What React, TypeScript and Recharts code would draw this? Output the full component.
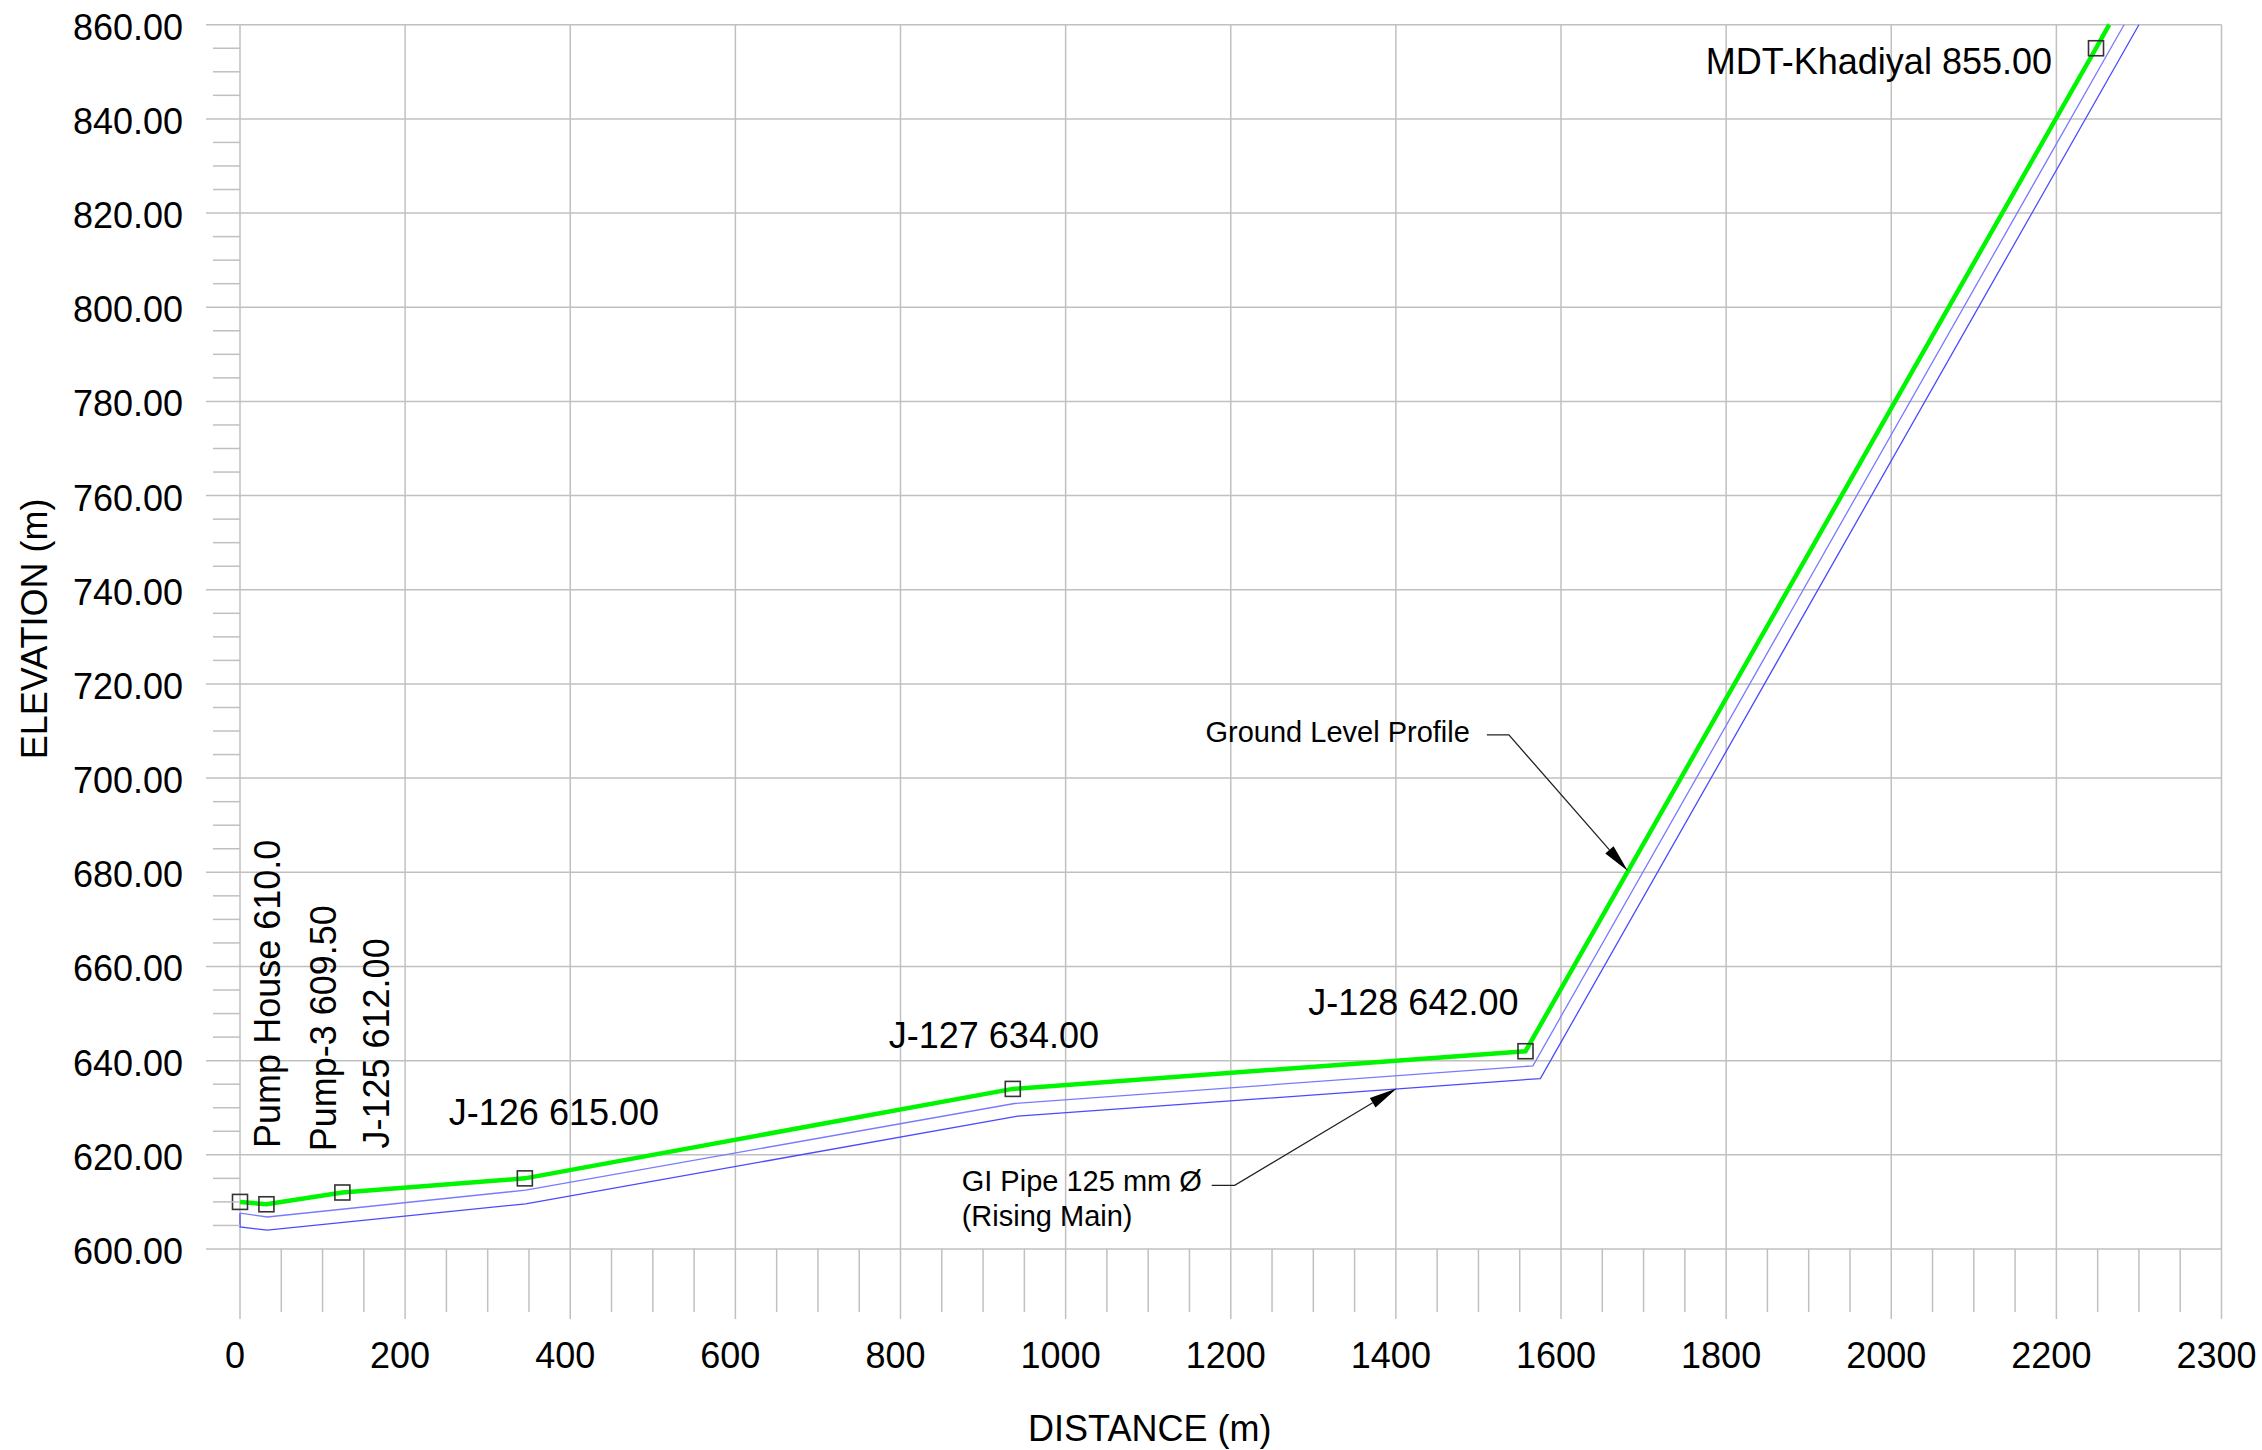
import { ComposedChart, Line, Scatter, XAxis, YAxis, CartesianGrid, ReferenceDot, Label } from 'recharts'

// junctions along the rising main (distance in m, elevation in m)
const junctionLabels = [
  'Pump House 610.0',
  'Pump-3 609.50',
  'J-125 612.00',
  'J-126 615.00',
  'J-127 634.00',
  'J-128 642.00',
  'MDT-Khadiyal 855.00',
]
const junctionDistance = [0, 32, 124, 345, 936, 1557, 2248]
const junctionElevation = [610.0, 609.5, 612.0, 615.0, 634.0, 642.0, 855.0]

// ground level profile (runs off the top of the sheet past MDT)
const groundDistance = [0, 32, 124, 345, 936, 1557, 2248, 2264]
const groundElevation = [610.0, 609.5, 612.0, 615.0, 634.0, 642.0, 855.0, 860.0]

// pipe outline, crown and invert
const pipeTopDistance = [0, 33, 346, 938, 1566, 2282]
const pipeTopElevation = [607.6, 606.8, 612.5, 630.9, 638.9, 860.0]
const pipeBottomDistance = [0, 0, 33, 346, 942, 1575, 2300]
const pipeBottomElevation = [607.6, 604.7, 604.0, 609.6, 628.2, 636.2, 860.0]

// axes
const xMajorTicks = [0, 200, 400, 600, 800, 1000, 1200, 1400, 1600, 1800, 2000, 2200, 2400]
const xTickLabels = ['0', '200', '400', '600', '800', '1000', '1200', '1400', '1600', '1800', '2000', '2200', '2300']
const yMajorTicks = [600, 620, 640, 660, 680, 700, 720, 740, 760, 780, 800, 820, 840, 860]

// callouts
const calloutText = [['Ground Level Profile'], ['GI Pipe 125 mm Ø', '(Rising Main)']]
const calloutDistance = [1681, 1401]
const calloutElevation = [680.3, 634.1]

const xMinorTicks: number[] = []
for (let v = 0; v <= 2400; v += 50) xMinorTicks.push(v)
const yMinorTicks: number[] = []
for (let v = 600; v <= 860; v += 5) yMinorTicks.push(v)

const toPoints = (xs: number[], ys: number[]) => xs.map((x, i) => ({ x, y: ys[i] }))
const groundData = toPoints(groundDistance, groundElevation)
const pipeTopData = toPoints(pipeTopDistance, pipeTopElevation)
const pipeBottomData = toPoints(pipeBottomDistance, pipeBottomElevation)
const junctionData = junctionDistance.map((x, i) => ({ x, y: junctionElevation[i], label: junctionLabels[i], idx: i }))

const GRID = '#c0c0c0'
const FONT = '"Liberation Sans", Arial, sans-serif'

// label placement relative to the marker, in px
const labelLayout = [
  { dx: 40, dy: -54, anchor: 'start', rotate: true },
  { dx: 70, dy: -53, anchor: 'start', rotate: true },
  { dx: 47, dy: -44, anchor: 'start', rotate: true },
  { dx: -76, dy: -53, anchor: 'start', rotate: false },
  { dx: -124, dy: -41, anchor: 'start', rotate: false },
  { dx: -7, dy: -36, anchor: 'end', rotate: false },
  { dx: -44, dy: 26, anchor: 'end', rotate: false },
]

// leader geometry for the callouts, in px from the arrow tip
const calloutLayout = [
  { elbow: [-119, -136], armEnd: [-141, -136], text: [-158, -129], anchor: 'end' },
  { elbow: [-162, 97], armEnd: [-185, 97], text: [-435, 103], anchor: 'start' },
]

function ElevationTick({ x, y, payload }: any) {
  const v = payload.value
  const major = yMajorTicks.includes(v)
  return (
    <g>
      <line x1={x - (major ? 34 : 27)} x2={x} y1={y} y2={y} stroke={GRID} strokeWidth={1.5} />
      {major && (
        <text x={x - 57} y={y + 15} textAnchor="end" fontSize={36} fill="#000">
          {v.toFixed(2)}
        </text>
      )}
    </g>
  )
}

function DistanceTick({ x, y, payload }: any) {
  const i = xMajorTicks.indexOf(payload.value)
  const major = i >= 0
  return (
    <g>
      <line x1={x} x2={x} y1={y} y2={y + (major ? 70 : 63)} stroke={GRID} strokeWidth={1.5} />
      {major && (
        <text x={x - 5} y={y + 119} textAnchor="middle" fontSize={36} fill="#000">
          {xTickLabels[i]}
        </text>
      )}
    </g>
  )
}

function JunctionMarker(props: any) {
  const { cx, cy, payload } = props
  const l = labelLayout[payload.idx]
  const tx = cx + l.dx
  const ty = cy + l.dy
  return (
    <g>
      <rect x={cx - 7.5} y={cy - 7.5} width={15} height={15} fill="none" stroke="#333" strokeWidth={1.6} />
      <text
        x={tx}
        y={ty}
        fontSize={36}
        fill="#000"
        textAnchor={l.anchor}
        transform={l.rotate ? `rotate(-90 ${tx} ${ty})` : undefined}
      >
        {payload.label}
      </text>
    </g>
  )
}

function Callout(idx: number) {
  return (props: any) => {
    const { cx, cy } = props
    const c = calloutLayout[idx]
    const ex = cx + c.elbow[0]
    const ey = cy + c.elbow[1]
    const len = Math.hypot(cx - ex, cy - ey)
    const ux = (cx - ex) / len
    const uy = (cy - ey) / len
    const bx = cx - ux * 28
    const by = cy - uy * 28
    const w = 5.5
    const head = `${cx},${cy} ${bx - uy * w},${by + ux * w} ${bx + uy * w},${by - ux * w}`
    return (
      <g>
        <polyline
          points={`${cx + c.armEnd[0]},${cy + c.armEnd[1]} ${ex},${ey} ${bx},${by}`}
          fill="none"
          stroke="#222"
          strokeWidth={1.3}
        />
        <polygon points={head} fill="#000" />
        {calloutText[idx].map((t, k) => (
          <text key={k} x={cx + c.text[0]} y={cy + c.text[1] + k * 35} fontSize={29} fill="#000" textAnchor={c.anchor}>
            {t}
          </text>
        ))}
      </g>
    )
  }
}

export default function App() {
  return (
    <div style={{ position: 'absolute', left: 0, top: 0, fontFamily: FONT, background: '#fff' }}>
      <ComposedChart width={2262} height={1450} margin={{ top: 24.7, right: 40.5, bottom: 0, left: 0 }}>
        <CartesianGrid
          horizontalValues={yMajorTicks}
          verticalValues={xMajorTicks}
          stroke={GRID}
          strokeWidth={1.5}
        />
        <XAxis
          type="number"
          dataKey="x"
          domain={[0, 2400]}
          ticks={xMinorTicks}
          interval={0}
          height={201}
          tickSize={0}
          tickMargin={0}
          axisLine={false}
          tickLine={false}
          tick={DistanceTick}
        >
          <Label
            content={(p: any) => (
              <text
                x={p.viewBox.x + p.viewBox.width / 2 - 81}
                y={p.viewBox.y + 192}
                textAnchor="middle"
                fontSize={36}
                fill="#000"
              >
                DISTANCE (m)
              </text>
            )}
          />
        </XAxis>
        <YAxis
          type="number"
          dataKey="y"
          domain={[600, 860]}
          ticks={yMinorTicks}
          interval={0}
          width={240}
          tickSize={0}
          tickMargin={0}
          axisLine={false}
          tickLine={false}
          tick={ElevationTick}
        >
          <Label
            content={(p: any) => {
              const x = p.viewBox.x + 47
              const y = p.viewBox.y + p.viewBox.height / 2 - 8
              return (
                <text x={x} y={y} textAnchor="middle" fontSize={36} fill="#000" transform={`rotate(-90 ${x} ${y})`}>
                  ELEVATION (m)
                </text>
              )
            }}
          />
        </YAxis>
        <Line
          data={pipeBottomData}
          dataKey="y"
          type="linear"
          stroke="#4a4aff"
          strokeWidth={1.3}
          dot={false}
          activeDot={false}
          isAnimationActive={false}
        />
        <Line
          data={pipeTopData}
          dataKey="y"
          type="linear"
          stroke="#7a7aff"
          strokeWidth={1.3}
          dot={false}
          activeDot={false}
          isAnimationActive={false}
        />
        <Line
          data={groundData}
          dataKey="y"
          type="linear"
          stroke="#00f500"
          strokeWidth={4.5}
          dot={false}
          activeDot={false}
          isAnimationActive={false}
        />
        <Scatter data={junctionData} dataKey="y" shape={JunctionMarker} isAnimationActive={false} />
        {calloutDistance.map((x, i) => (
          <ReferenceDot key={i} x={x} y={calloutElevation[i]} r={0} shape={Callout(i)} />
        ))}
      </ComposedChart>
    </div>
  )
}
